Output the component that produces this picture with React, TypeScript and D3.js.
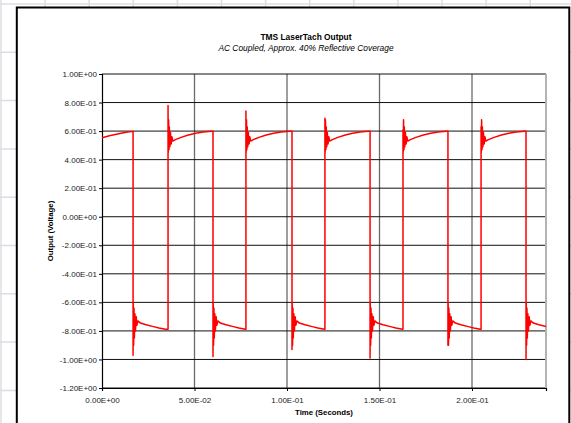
import React, { useEffect, useRef } from 'react';
import * as d3 from 'd3';

const xTicks = [0, 0.05, 0.1, 0.15, 0.2];
const yTicks = [1.0, 0.8, 0.6, 0.4, 0.2, 0, -0.2, -0.4, -0.6, -0.8, -1.0, -1.2];

// edge times (seconds) and the spike extreme at each edge
const fallTimes = [0.0168, 0.06, 0.1027, 0.1449, 0.187, 0.2292];
const fallSpikes = [-0.97, -0.98, -0.93, -0.99, -0.9, -1.0];
const riseTimes = [0.0357, 0.0778, 0.1205, 0.1627, 0.2049];
const riseSpikes = [0.78, 0.74, 0.69, 0.61, 0.63];

// trace start, already on the high level
const startT = [0, 0.004, 0.009, 0.013, 0.0168];
const startV = [0.553, 0.568, 0.582, 0.592, 0.598];

// ring-down after an edge (s after edge) and the slow settling that follows
const ringDt = [0.0001, 0.0003, 0.0005, 0.0007, 0.001, 0.0013, 0.0017, 0.0021, 0.0026];
const ringHigh = [0.45, 0.68, 0.47, 0.63, 0.49, 0.59, 0.51, 0.56, 0.53];
const ringLow = [-0.6, -0.9, -0.64, -0.85, -0.68, -0.8, -0.7, -0.76, -0.73];
const decayHighDt = [0.004, 0.007, 0.011, 0.015, 0.019, 0.0235];
const decayHigh = [0.54, 0.556, 0.572, 0.585, 0.594, 0.599];
const decayLowDt = [0.004, 0.007, 0.011, 0.014, 0.0175];
const decayLow = [-0.745, -0.757, -0.77, -0.78, -0.789];

function sci(v: number) {
  const [m, e] = v.toExponential(2).split('e');
  return m + 'E' + e[0] + e.slice(1).padStart(2, '0');
}

function buildTrace() {
  const pts: [number, number][] = startT.map((t, i) => [t, startV[i]]);
  const last = () => pts[pts.length - 1][1];
  fallTimes.forEach((tf, i) => {
    pts.push([tf, last()]);
    pts.push([tf, fallSpikes[i]]);
    ringDt.forEach((d, k) => pts.push([tf + d, ringLow[k]]));
    decayLowDt.forEach((d, k) => pts.push([tf + d, decayLow[k]]));
    if (i < riseTimes.length) {
      const tr = riseTimes[i];
      pts.push([tr, last()]);
      pts.push([tr, riseSpikes[i]]);
      ringDt.forEach((d, k) => pts.push([tr + d, ringHigh[k]]));
      decayHighDt.forEach((d, k) => pts.push([tr + d, decayHigh[k]]));
    }
  });
  return pts;
}

export default function App() {
  const ref = useRef<SVGSVGElement>(null);

  useEffect(() => {
    const W = 571, H = 423;
    const plot = { left: 102, right: 546, top: 74, bottom: 388 };
    const svg = d3.select(ref.current);
    svg.selectAll('*').remove();

    // spreadsheet cells behind the chart object
    const bg = svg.append('g').attr('stroke', '#dcdce3').attr('stroke-width', 1.5);
    d3.range(1, W, 44.1).forEach((x) =>
      bg.append('line').attr('x1', x).attr('x2', x).attr('y1', 0).attr('y2', H));
    d3.range(4, H, 48.3).forEach((y) =>
      bg.append('line').attr('x1', 0).attr('x2', W).attr('y1', y).attr('y2', y));

    svg.append('rect')
      .attr('x', 16.8).attr('y', 7.5)
      .attr('width', 552.5).attr('height', 440)
      .attr('fill', '#fff').attr('stroke', '#000').attr('stroke-width', 2);

    const x = d3.scaleLinear().domain([0, 0.24]).range([plot.left, plot.right]);
    const y = d3.scaleLinear().domain([-1.2, 1.0]).range([plot.bottom, plot.top]);

    const font = 'Liberation Sans, Arial, sans-serif';

    // gridlines
    svg.append('g').selectAll('line').data(xTicks.slice(1)).join('line')
      .attr('x1', (d) => x(d)).attr('x2', (d) => x(d))
      .attr('y1', plot.top).attr('y2', plot.bottom)
      .attr('stroke', '#6a6a6a').attr('stroke-width', 1.3);
    svg.append('g').selectAll('line').data(yTicks).join('line')
      .attr('x1', plot.left).attr('x2', plot.right)
      .attr('y1', (d) => y(d)).attr('y2', (d) => y(d))
      .attr('stroke', '#111').attr('stroke-width', 1);
    svg.append('line')
      .attr('x1', plot.right).attr('x2', plot.right)
      .attr('y1', plot.top).attr('y2', plot.bottom)
      .attr('stroke', '#b4b4b4').attr('stroke-width', 2);

    // axes
    const yAxis = svg.append('g').attr('transform', `translate(${plot.left},0)`)
      .call(d3.axisLeft(y).tickValues(yTicks).tickFormat((d) => sci(+d)).tickSize(3).tickPadding(2));
    const xAxis = svg.append('g').attr('transform', `translate(0,${plot.bottom})`)
      .call(d3.axisBottom(x).tickValues(xTicks).tickFormat((d) => sci(+d)).tickSize(3).tickPadding(6));
    [yAxis, xAxis].forEach((a) => {
      a.select('.domain').attr('stroke', '#000').attr('stroke-width', 1.2);
      a.selectAll('line').attr('stroke', '#000');
      a.selectAll('text').attr('font-family', font).attr('font-size', 8).attr('fill', '#222');
    });

    // trace
    svg.append('clipPath').attr('id', 'plotClip').append('rect')
      .attr('x', plot.left).attr('y', 0)
      .attr('width', plot.right - plot.left).attr('height', H);
    const line = d3.line<[number, number]>()
      .x((d) => x(d[0]))
      .y((d) => y(d[1]));
    svg.append('path')
      .datum(buildTrace())
      .attr('clip-path', 'url(#plotClip)')
      .attr('fill', 'none')
      .attr('stroke', '#ff0000')
      .attr('stroke-width', 1.5)
      .attr('stroke-linejoin', 'round')
      .attr('d', line);

    // titles
    svg.append('text')
      .attr('x', 306).attr('y', 40)
      .attr('text-anchor', 'middle')
      .attr('font-family', font).attr('font-size', 8.4).attr('font-weight', 'bold')
      .text('TMS LaserTach Output');
    svg.append('text')
      .attr('x', 306).attr('y', 51)
      .attr('text-anchor', 'middle')
      .attr('font-family', font).attr('font-size', 8.4).attr('font-style', 'italic')
      .text('AC Coupled, Approx. 40% Reflective Coverage');
    svg.append('text')
      .attr('x', (plot.left + plot.right) / 2).attr('y', 415)
      .attr('text-anchor', 'middle')
      .attr('font-family', font).attr('font-size', 7.8).attr('font-weight', 'bold')
      .text('Time (Seconds)');
    svg.append('text')
      .attr('transform', `translate(53,${(plot.top + plot.bottom) / 2}) rotate(-90)`)
      .attr('text-anchor', 'middle')
      .attr('font-family', font).attr('font-size', 7.8).attr('font-weight', 'bold')
      .text('Output (Voltage)');
  }, []);

  return (
    <svg ref={ref} width={571} height={423}
      style={{ position: 'absolute', left: 0, top: 0, background: '#fff' }} />
  );
}
